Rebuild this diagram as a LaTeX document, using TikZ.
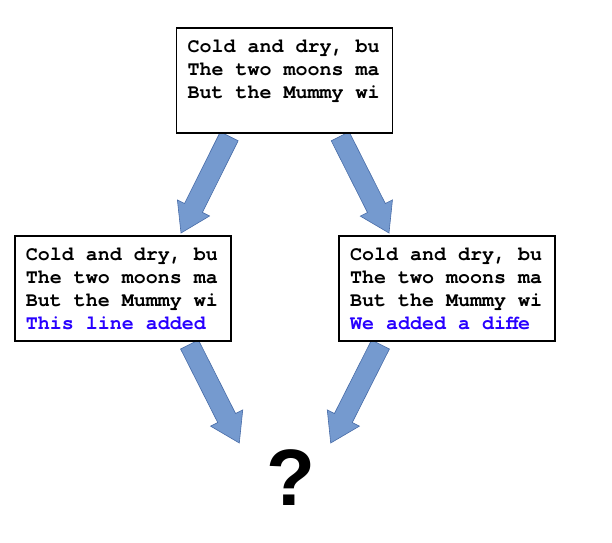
\documentclass[tikz,border=0pt]{standalone}
\usepackage{fontspec}
\setmainfont{Liberation Serif}
\newfontfamily\boxmono[WordSpace={1,0,0}]{TeX Gyre Cursor}
\newfontfamily\qsans{Liberation Sans}
\usetikzlibrary{calc,backgrounds}
\definecolor{arrowfill}{RGB}{117,154,207}
\definecolor{arrowline}{RGB}{72,108,168}
\definecolor{addblue}{RGB}{40,0,255}
\tikzset{
  textbox/.style={draw=black, line width=1.5pt, fill=white, outer sep=0pt,
    inner xsep=11pt, inner ysep=0pt, text width=194pt, align=left,
    text height=24.7pt, text depth=80pt,
    font=\boxmono\bfseries\fontsize{20}{23}\selectfont,
    execute at begin node={\spaceskip=12pt\relax\xspaceskip=12pt\relax}},
  blockarrow/.style={fill=arrowfill, draw=arrowline, line width=0.6pt, line join=miter},
  qmark/.style={font=\qsans\bfseries\fontsize{80}{80}\selectfont, anchor=base, inner sep=0pt}
}
\newcommand\blockarrow[2]{%
  \coordinate (ba-h) at ($(#2)!28pt!(#1)$);
  \draw[blockarrow] ($(#1)!10pt!90:(#2)$) -- ($(ba-h)!10pt!90:(#2)$)
    -- ($(ba-h)!18pt!90:(#2)$) -- (#2) -- ($(ba-h)!18pt!-90:(#2)$)
    -- ($(ba-h)!10pt!-90:(#2)$) -- ($(#1)!10pt!-90:(#2)$) -- cycle;}
\begin{document}
\begin{tikzpicture}[x=1pt,y=-1pt]
\useasboundingbox (0,0) rectangle (612,542);
\node[textbox] (top) at (284.7,80.5) {Cold and dry, bu\\The two moons ma\\But the Mummy wi};
\node[textbox] (left) at (122.85,288.4) {Cold and dry, bu\\The two moons ma\\But the Mummy wi\\{\color{addblue}This line added}};
\node[textbox] (right) at (447.15,288.4) {Cold and dry, bu\\The two moons ma\\But the Mummy wi\\{\color{addblue}We added a diffe}};
\node[qmark] (q) at (290.5,505.7) {?};
\coordinate (a1s) at ($(top.south)+(-55.5,3.45)$);
\coordinate (a1e) at ($(left.north)+(58.15,-3.05)$);
\coordinate (a2s) at ($(top.south)+(55.5,3.45)$);
\coordinate (a2e) at ($(right.north)+(-58.15,-3.05)$);
\coordinate (a3s) at ($(left.south)+(66.65,3.75)$);
\coordinate (a3e) at ($(q.base)+(-51.2,-62.7)$);
\coordinate (a4s) at ($(right.south)+(-66.65,3.75)$);
\coordinate (a4e) at ($(q.base)+(40.2,-62.7)$);
\begin{scope}[on background layer]
\blockarrow{a1s}{a1e}
\blockarrow{a2s}{a2e}
\blockarrow{a3s}{a3e}
\blockarrow{a4s}{a4e}
\end{scope}
\end{tikzpicture}
\end{document}
